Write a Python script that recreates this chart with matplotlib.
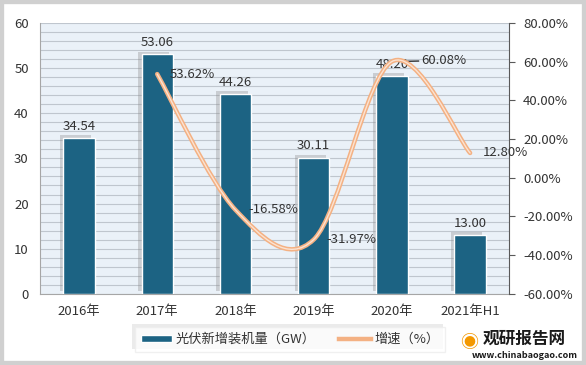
import matplotlib
matplotlib.use("Agg")
import matplotlib.pyplot as plt
import matplotlib.patheffects as pe
from matplotlib.path import Path
from matplotlib.patches import PathPatch, Rectangle, Patch
from matplotlib.lines import Line2D
import numpy as np

plt.rcParams['font.family'] = ['Noto Sans CJK SC', 'DejaVu Sans']

categories = ["2016年", "2017年", "2018年", "2019年", "2020年", "2021年H1"]
capacity = [34.54, 53.06, 44.26, 30.11, 48.20, 13.00]
growth = [None, 53.62, -16.58, -31.97, 60.08, 12.80]

bar_color = "#1C6383"
line_color = "#F4B183"
text_color = "#333333"

fig = plt.figure(figsize=(5.86, 3.65), dpi=100)
fig.patch.set_facecolor("white")
# outer gray frame
fig.add_artist(Rectangle((0, 0), 1, 1, transform=fig.transFigure,
                         facecolor="none", edgecolor="#D0D0D0", lw=6))

ax = fig.add_axes([0.068, 0.195, 0.801, 0.742])
ax.set_facecolor("#EAF1F8")
x = np.arange(len(categories))

ax.set_ylim(0, 60)
ax.set_xlim(-0.5, len(categories) - 0.5)
ax.set_yticks(np.arange(0, 61, 10))
ax.set_yticks(np.arange(0, 61, 2), minor=True)
ax.grid(True, which="both", axis="y", color="#BFC6CE", lw=0.8)
ax.set_axisbelow(True)
ax.tick_params(axis="y", which="both", length=0, labelsize=9.5, colors=text_color, pad=8)
ax.tick_params(axis="x", length=0, labelsize=9.5, colors=text_color, pad=8)
ax.set_xticks(x)
ax.set_xticklabels(categories)
for s in ["top", "right"]:
    ax.spines[s].set_visible(False)
ax.spines["left"].set_color("#A6A6A6")
ax.spines["bottom"].set_color("#A6A6A6")

bars = ax.bar(x, capacity, width=0.4, color=bar_color, edgecolor="white", lw=1.0,
              label="光伏新增装机量（GW）", zorder=3)
for b in bars:
    b.set_path_effects([pe.SimplePatchShadow(offset=(-2.5, 2), shadow_rgbFace="#8C8C8C", alpha=0.35),
                        pe.Normal()])
for xi, v in zip(x, capacity):
    ax.text(xi, v + 1.2, f"{v:.2f}", ha="center", va="bottom", fontsize=9.5, color=text_color, zorder=5)

ax2 = ax.twinx()
ax2.set_ylim(-60, 80)
ax2.set_yticks(np.arange(-60, 81, 20))
ax2.set_yticklabels([f"{t:.2f}%" for t in np.arange(-60, 81, 20)])
ax2.tick_params(axis="y", length=4, labelsize=9.5, colors=text_color, pad=6)
ax2.tick_params(axis="y", color="#595959")
for s in ["top", "left", "bottom"]:
    ax2.spines[s].set_visible(False)
ax2.spines["right"].set_color("#595959")

# smooth (Catmull-Rom bezier) line through growth points
gx = [xi for xi, g in zip(x, growth) if g is not None]
gy = [g for g in growth if g is not None]
pts = np.column_stack([gx, gy]).astype(float)
verts = [tuple(pts[0])]
codes = [Path.MOVETO]
n = len(pts)
for i in range(n - 1):
    p0 = pts[max(i - 1, 0)]
    p1 = pts[i]
    p2 = pts[i + 1]
    p3 = pts[min(i + 2, n - 1)]
    c1 = p1 + (p2 - p0) / 6
    c2 = p2 - (p3 - p1) / 6
    verts += [tuple(c1), tuple(c2), tuple(p2)]
    codes += [Path.CURVE4] * 3
path = Path(verts, codes)
ax2.add_patch(PathPatch(path, facecolor="none", edgecolor=line_color, lw=3.2,
                        capstyle="round", zorder=4))
ax2.add_patch(PathPatch(path, facecolor="none", edgecolor="#FBE3D2", lw=1.0,
                        capstyle="round", zorder=4))

for xi, g in zip(gx, gy):
    if abs(g - 60.08) < 0.01:
        ax2.annotate(f"{g:.2f}%", xy=(xi, g), xytext=(xi + 0.38, g + 0.5), ha="left", va="center",
                     fontsize=9.5, color=text_color,
                     arrowprops=dict(arrowstyle="-", color="black", lw=0.8, shrinkA=0, shrinkB=1))
    else:
        ax2.text(xi + 0.16, g, f"{g:.2f}%", ha="left", va="center", fontsize=9.5,
                 color=text_color, zorder=5)

# legend
handles = [Patch(facecolor=bar_color, edgecolor="white"),
           Line2D([0], [0], color=line_color, lw=3.2)]
leg = fig.legend(handles, ["光伏新增装机量（GW）", "增速（%）"], loc="center",
                 bbox_to_anchor=(0.495, 0.07), ncol=2, fontsize=9.5, frameon=True,
                 fancybox=False, edgecolor="#EDEDED", columnspacing=1.8,
                 handlelength=2.4, handleheight=0.5, borderpad=0.45, handletextpad=0.25)
leg.get_frame().set_path_effects([pe.SimplePatchShadow(offset=(-2, 2), shadow_rgbFace="#D9D9D9", alpha=0.5),
                                  pe.Normal()])
for t in leg.get_texts():
    t.set_color(text_color)

# watermark
fig.text(0.895, 0.072, "观研报告网", fontsize=12, fontweight="bold", color="#1A1A1A",
         ha="center", va="center")
fig.text(0.895, 0.025, "www.chinabaogao.com", fontsize=6.5, fontweight="bold",
         color="#1A1A1A", ha="center", va="center")
fig.text(0.80, 0.06, "◉", fontsize=13, color="#F39800", ha="center", va="center")

fig.savefig("out.png", dpi=100)
